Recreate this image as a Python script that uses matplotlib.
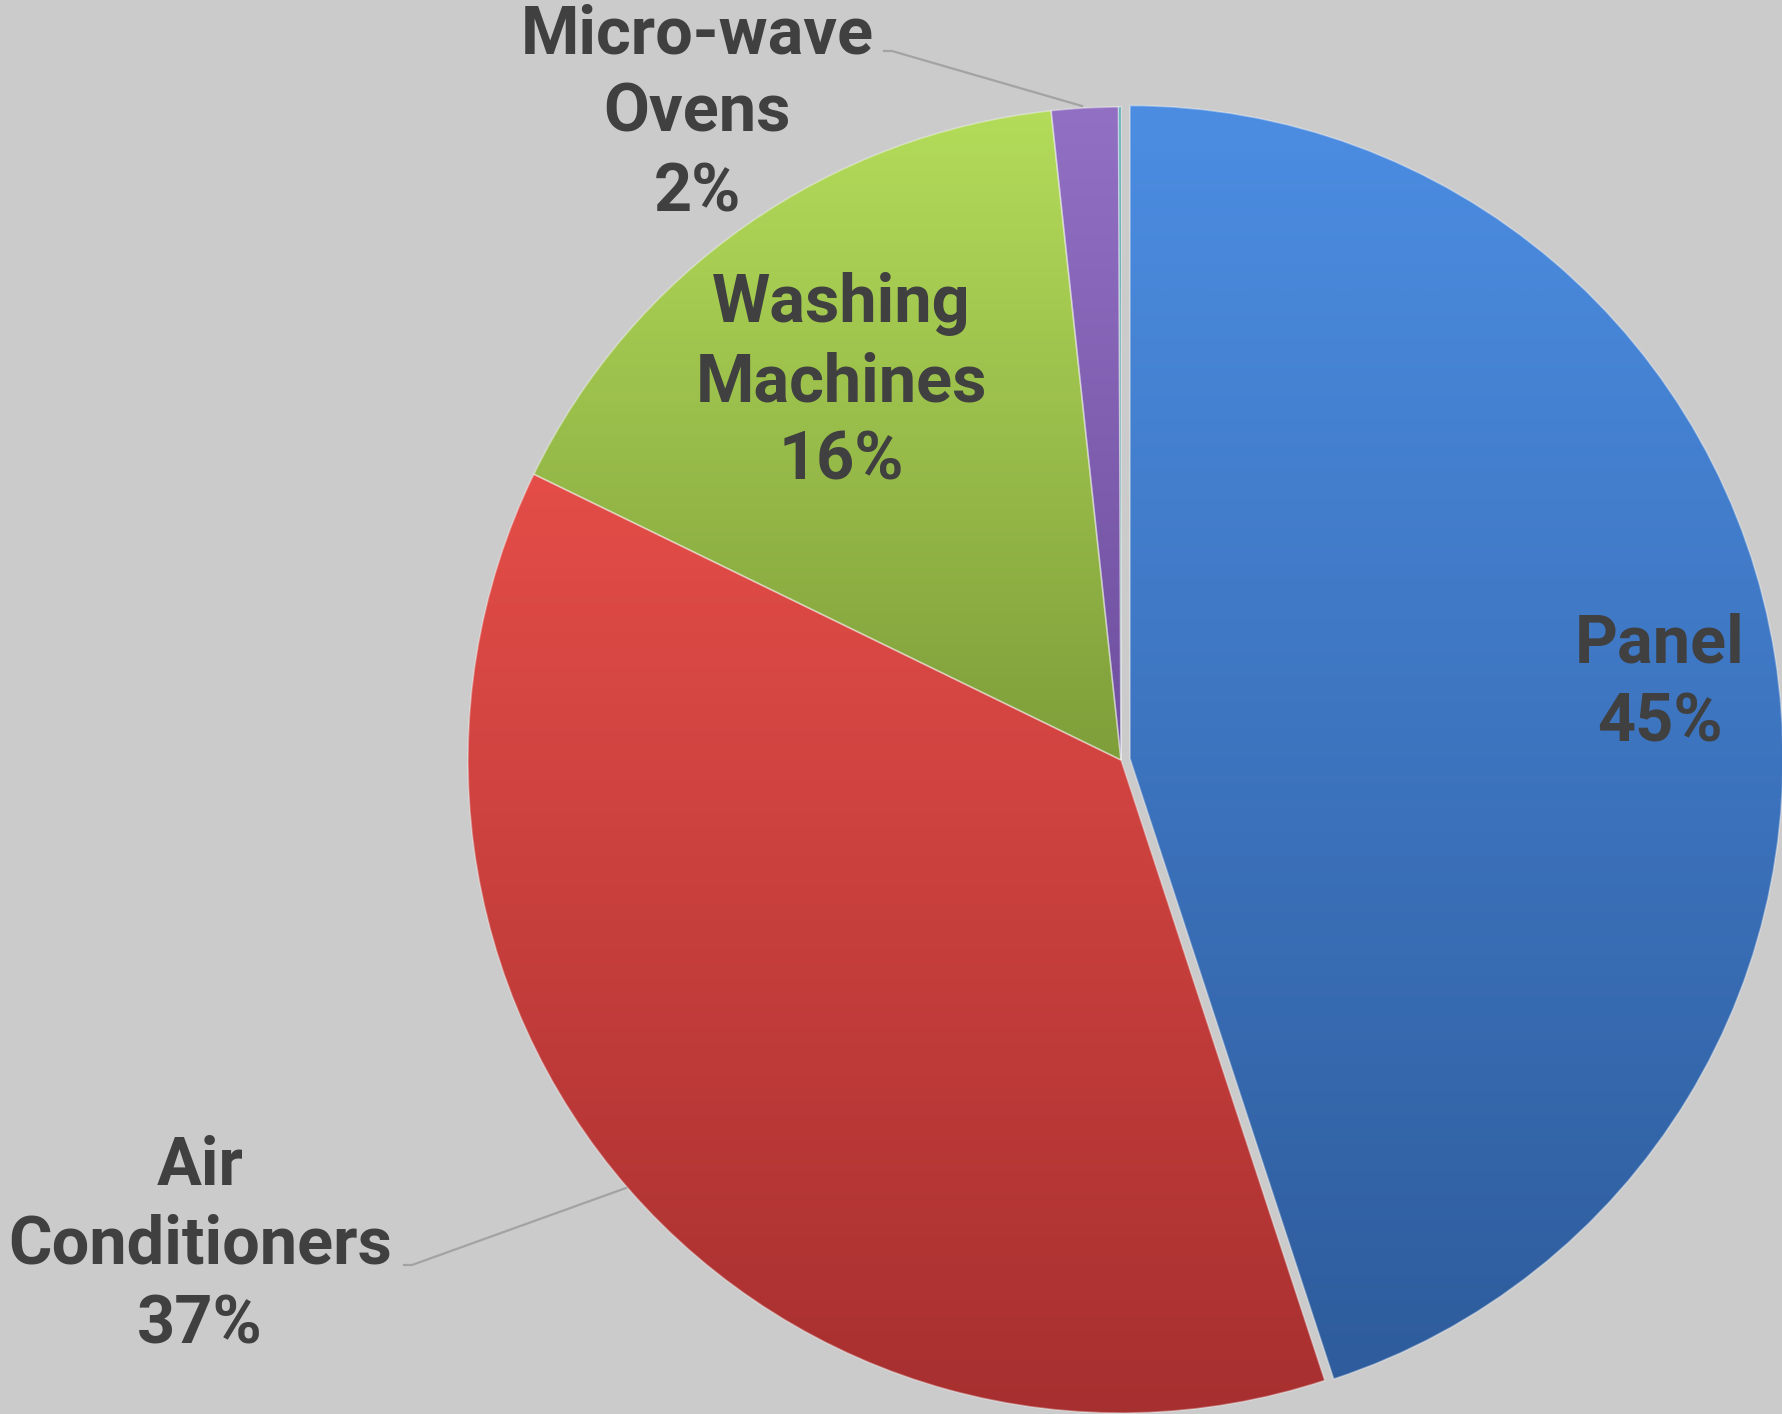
import numpy as np
import matplotlib
matplotlib.use("Agg")
import matplotlib.pyplot as plt
from matplotlib.colors import LinearSegmentedColormap

# ---- data ----
categories = ["Panel", "Air\nConditioners", "Washing\nMachines", "Micro-wave\nOvens", "Other"]
values = [45.0, 37.3, 16.1, 1.65, 0.06]
show_label = [True, True, True, True, False]

# ---- style ----
top_colors = ["#4c8de2", "#e44d48", "#b4dc5a", "#9270c4", "#3aa0a8"]
bot_colors = ["#2e5c9c", "#a62f2f", "#7e9e3a", "#6e4e9e", "#2a7a80"]
explode_frac = [0.014, 0, 0, 0, 0]
BG = "#cbcbcb"
TXT = "#404040"

W, H = 1782, 1414
fig = plt.figure(figsize=(W / 100, H / 100), dpi=100)
fig.patch.set_facecolor(BG)
ax = fig.add_axes([0, 0, 1, 1])
ax.set_facecolor(BG)

cx, cy, R = 1121, H - 760, 653

wedges, _ = ax.pie(values, startangle=90, counterclock=False,
                   explode=[e * R for e in explode_frac],
                   center=(cx, cy), radius=R, colors=top_colors,
                   wedgeprops=dict(linewidth=1.2, edgecolor=(1, 1, 1, 0.35)),
                   frame=True)
ax.set_xlim(0, W)
ax.set_ylim(0, H)
ax.set_aspect("equal")
ax.axis("off")

# vertical gradient fill clipped to each wedge
for w, tc, bc in zip(wedges, top_colors, bot_colors):
    verts = w.get_path().vertices
    y0, y1 = verts[:, 1].min(), verts[:, 1].max()
    x0, x1 = verts[:, 0].min(), verts[:, 0].max()
    cmap = LinearSegmentedColormap.from_list("g", [bc, tc])
    grad = np.linspace(0, 1, 256).reshape(-1, 1)
    im = ax.imshow(grad, cmap=cmap, aspect="auto", origin="lower",
                   extent=(x0 - 2, x1 + 2, y0 - 2, y1 + 2), zorder=w.get_zorder() + 0.1,
                   interpolation="bilinear")
    im.set_clip_path(w)
    w.set_facecolor("none")
    w.set_zorder(w.get_zorder() + 0.2)

ax.set_xlim(0, W)
ax.set_ylim(0, H)

# ---- labels ----
pcts = [f"{round(v):d}%" for v in values]
label_pos = [(1660, H - 684), (200, H - 1246), (841, H - 383), (697, H - 114), None]
for name, p, pos, show in zip(categories, pcts, label_pos, show_label):
    if not show:
        continue
    ax.text(pos[0], pos[1], f"{name}\n{p}", ha="center", va="center",
            fontsize=48, fontweight="bold", family=["Roboto", "DejaVu Sans"],
            color=TXT, linespacing=1.3, zorder=10)

# leader lines
ax.plot([884, 892, 1082], [H - 51, H - 51, H - 106], color="#a3a3a3", lw=1.6, zorder=9)
ax.plot([404, 412, 626], [H - 1265, H - 1265, H - 1188], color="#a3a3a3", lw=1.6, zorder=9)

fig.savefig("out.png", dpi=100, facecolor=BG)
